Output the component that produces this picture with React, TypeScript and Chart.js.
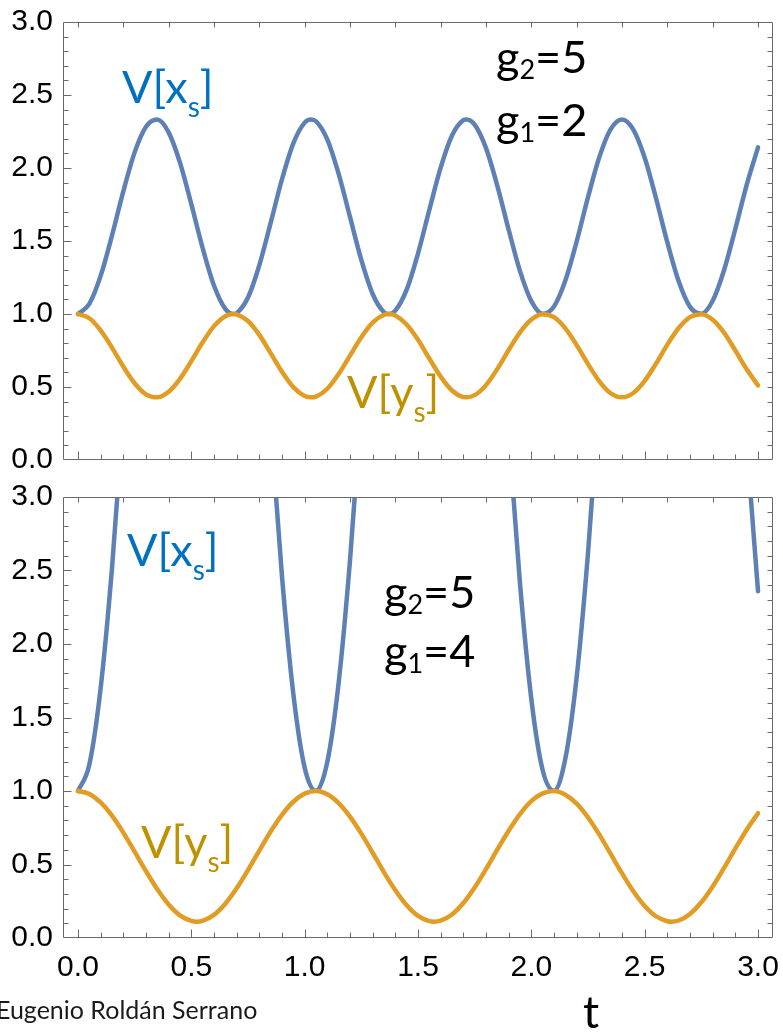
import React, { useEffect, useRef } from 'react';
import { Chart, registerables } from 'chart.js';

Chart.register(...registerables);

// ---------- data ----------
const T_TOP = [
  0, 0.05, 0.1, 0.15, 0.2, 0.25, 0.3, 0.35, 0.4, 0.45, 0.5, 0.55, 0.6, 0.65, 0.686,
  0.7, 0.75, 0.8, 0.85, 0.9, 0.95, 1.0, 1.028, 1.05, 1.1, 1.15, 1.2, 1.25, 1.3, 1.35, 1.371,
  1.4, 1.45, 1.5, 1.55, 1.6, 1.65, 1.7, 1.714, 1.75, 1.8, 1.85, 1.9, 1.95, 2.0, 2.05, 2.1,
  2.15, 2.2, 2.25, 2.3, 2.35, 2.4, 2.45, 2.5, 2.55, 2.6, 2.65, 2.7, 2.75, 2.8, 2.85, 2.9,
  2.95, 3.0,
];
const VX_TOP = [
  1.0, 1.069, 1.261, 1.537, 1.84, 2.107, 2.283, 2.332, 2.244, 2.037, 1.753, 1.452, 1.195, 1.035, 1.0,
  1.006, 1.113, 1.334, 1.624, 1.923, 2.169, 2.311, 2.333, 2.32, 2.195, 1.96, 1.665, 1.37, 1.137, 1.012, 1.0,
  1.023, 1.167, 1.414, 1.713, 2.002, 2.222, 2.328, 2.333, 2.297, 2.136, 1.878, 1.577, 1.294, 1.088, 1.001, 1.052,
  1.229, 1.497, 1.8, 2.075, 2.266, 2.333, 2.263, 2.07, 1.793, 1.49, 1.224, 1.049, 1.002, 1.091, 1.3, 1.584,
  1.885, 2.141,
];
const VY_TOP = [
  1.0, 0.971, 0.888, 0.77, 0.64, 0.526, 0.45, 0.429, 0.467, 0.556, 0.677, 0.806, 0.917, 0.985, 1.0,
  0.997, 0.952, 0.857, 0.732, 0.604, 0.499, 0.438, 0.429, 0.434, 0.488, 0.589, 0.715, 0.841, 0.941, 0.995, 1.0,
  0.99, 0.928, 0.823, 0.695, 0.571, 0.476, 0.431, 0.429, 0.444, 0.513, 0.624, 0.753, 0.874, 0.962, 0.999, 0.978,
  0.902, 0.787, 0.657, 0.539, 0.457, 0.429, 0.459, 0.542, 0.66, 0.79, 0.904, 0.979, 0.999, 0.961, 0.872, 0.75,
  0.621, 0.511,
];

const T_BOTTOM = [
  0, 0.05, 0.1, 0.15, 0.2, 0.25, 0.3, 0.35, 0.4, 0.45, 0.5, 0.524,
  0.55, 0.6, 0.65, 0.7, 0.75, 0.8, 0.85, 0.9, 0.95, 1.0, 1.05, 1.1, 1.15, 1.2, 1.25, 1.3, 1.35, 1.4,
  1.45, 1.5, 1.55, 1.571,
  1.6, 1.65, 1.7, 1.75, 1.8, 1.85, 1.9, 1.95, 2.0, 2.05, 2.1, 2.15, 2.2, 2.25, 2.3, 2.35, 2.4, 2.45,
  2.5, 2.55, 2.6, 2.618,
  2.65, 2.7, 2.75, 2.8, 2.85, 2.9, 2.95, 3.0,
];
const VX_BOTTOM = [
  1.0, 1.179, 1.699, 2.514, 3.551, 4.717, 5.909, 7.019, 7.95, 8.616, 8.96, 9.0,
  8.95, 8.587, 7.904, 6.961, 5.843, 4.65, 3.488, 2.461, 1.661, 1.159, 1.001, 1.199, 1.737, 2.567, 3.613, 4.784, 5.974, 7.077,
  7.995, 8.645, 8.969, 9.0,
  8.939, 8.557, 7.857, 6.902, 5.777, 4.583, 3.426, 2.41, 1.625, 1.141, 1.002, 1.221, 1.776, 2.62, 3.677, 4.851, 6.039, 7.134,
  8.039, 8.672, 8.977, 9.0,
  8.926, 8.525, 7.81, 6.843, 5.711, 4.516, 3.364, 2.359,
];
const VY_BOTTOM = [
  1.0, 0.98, 0.922, 0.832, 0.717, 0.587, 0.455, 0.331, 0.228, 0.154, 0.116, 0.111,
  0.117, 0.157, 0.233, 0.338, 0.462, 0.594, 0.724, 0.838, 0.927, 0.982, 1.0, 0.978, 0.918, 0.826, 0.71, 0.58, 0.447, 0.325,
  0.223, 0.151, 0.115, 0.111,
  0.118, 0.16, 0.238, 0.344, 0.469, 0.602, 0.73, 0.843, 0.931, 0.984, 1.0, 0.975, 0.914, 0.82, 0.703, 0.572, 0.44, 0.318,
  0.218, 0.148, 0.114, 0.111,
  0.119, 0.164, 0.243, 0.351, 0.477, 0.609, 0.737, 0.849,
];

const X_TICKS = [0, 0.5, 1.0, 1.5, 2.0, 2.5, 3.0];
const Y_TICKS = [0, 0.5, 1.0, 1.5, 2.0, 2.5, 3.0];
const X_MIN = -0.066;
const X_MAX = 3.066;
const Y_MIN = 0;
const Y_MAX = 3;

const BLUE = '#5E81B5';
const GOLD = '#E19C24';
const FRAME = '#6a6a6a';
const TEXT_BLUE = '#0070C0';
const TEXT_GOLD = '#BF9000';

// Mathematica-like frame with inward ticks on all four sides
const framePlugin = {
  id: 'mmaFrame',
  afterDatasetsDraw(chart: any) {
    const { ctx, chartArea: a } = chart;
    const xs = chart.scales.x;
    const ys = chart.scales.y;
    const L = Math.round(a.left) + 0.5;
    const R = Math.round(a.right) - 0.5;
    const T = Math.round(a.top) + 0.5;
    const B = Math.round(a.bottom) - 0.5;
    ctx.save();
    ctx.strokeStyle = FRAME;
    ctx.lineWidth = 1;
    ctx.beginPath();
    ctx.rect(L, T, R - L, B - T);
    for (let i = 0; i <= 30; i++) {
      const px = Math.round(xs.getPixelForValue(i / 10)) + 0.5;
      const len = i % 5 === 0 ? 8 : 5;
      ctx.moveTo(px, B);
      ctx.lineTo(px, B - len);
    }
    for (let i = 0; i <= 15; i++) {
      const px = Math.round(xs.getPixelForValue(i / 5)) + 0.5;
      ctx.moveTo(px, T);
      ctx.lineTo(px, T + 5);
    }
    for (let i = 1; i < 30; i++) {
      const py = Math.round(ys.getPixelForValue(i / 10)) + 0.5;
      const len = i % 5 === 0 ? 8 : 5;
      ctx.moveTo(L, py);
      ctx.lineTo(L + len, py);
      ctx.moveTo(R, py);
      ctx.lineTo(R - 5, py);
    }
    ctx.stroke();
    ctx.restore();
  },
};

function toPoints(t: number[], v: number[]) {
  return t.map((x, i) => ({ x, y: v[i] }));
}

function zeroPadding(s: any) {
  s.paddingTop = 0;
  s.paddingBottom = 0;
  s.paddingLeft = 0;
  s.paddingRight = 0;
}

function makeConfig(t: number[], vx: number[], vy: number[], showX: boolean, padTop: number, xAxisH: number): any {
  const lineStyle = {
    pointRadius: 0,
    borderWidth: 4.5,
    cubicInterpolationMode: 'monotone',
    borderCapStyle: 'round',
    borderJoinStyle: 'round',
    fill: false,
    clip: 0,
  };
  const tickFont = { family: '"Liberation Sans", Arial, sans-serif', size: 30 };
  return {
    type: 'line',
    data: {
      datasets: [
        { label: 'V[y_s]', data: toPoints(t, vy), borderColor: GOLD, ...lineStyle },
        { label: 'V[x_s]', data: toPoints(t, vx), borderColor: BLUE, ...lineStyle },
      ],
    },
    options: {
      animation: false,
      responsive: false,
      devicePixelRatio: 1,
      events: [],
      elements: { line: { capBezierPoints: false } },
      layout: { autoPadding: false, padding: { top: padTop, right: 10, left: 0, bottom: 0 } },
      plugins: { legend: { display: false }, tooltip: { enabled: false }, title: { display: false } },
      scales: {
        x: {
          type: 'linear',
          min: X_MIN,
          max: X_MAX,
          grid: { display: false, drawTicks: false },
          border: { display: false },
          afterBuildTicks: (s: any) => {
            s.ticks = X_TICKS.map((v) => ({ value: v }));
          },
          afterFit: (s: any) => {
            s.height = xAxisH;
            zeroPadding(s);
          },
          ticks: {
            display: showX,
            padding: 12,
            color: '#000',
            font: tickFont,
            maxRotation: 0,
            autoSkip: false,
            callback: (v: any) => Number(v).toFixed(1),
          },
        },
        y: {
          type: 'linear',
          min: Y_MIN,
          max: Y_MAX,
          grid: { display: false, drawTicks: false },
          border: { display: false },
          afterBuildTicks: (s: any) => {
            s.ticks = Y_TICKS.map((v) => ({ value: v }));
          },
          afterFit: (s: any) => {
            s.width = 63;
            zeroPadding(s);
          },
          ticks: {
            padding: 10,
            color: '#000',
            font: tickFont,
            autoSkip: false,
            callback: (v: any) => Number(v).toFixed(1),
          },
        },
      },
    },
    plugins: [framePlugin],
  };
}

function Panel(props: { top: number; height: number; t: number[]; vx: number[]; vy: number[]; showX: boolean; padTop: number; xAxisH: number }) {
  const ref = useRef<HTMLCanvasElement | null>(null);
  useEffect(() => {
    if (!ref.current) return;
    const chart = new Chart(ref.current, makeConfig(props.t, props.vx, props.vy, props.showX, props.padTop, props.xAxisH));
    return () => chart.destroy();
  }, []);
  return (
    <canvas
      ref={ref}
      width={783}
      height={props.height}
      style={{ position: 'absolute', left: 0, top: props.top, width: 783, height: props.height }}
    />
  );
}

const labelBase: React.CSSProperties = {
  position: 'absolute',
  fontFamily: 'Lato, "Open Sans", sans-serif',
  fontSize: 45,
  lineHeight: 1,
  whiteSpace: 'nowrap',
  zIndex: 2,
};

function VLabel(props: { left: number; top: number; v: string; color: string }) {
  return (
    <div style={{ ...labelBase, left: props.left, top: props.top, color: props.color }}>
      V[{props.v}
      <span style={{ fontSize: 28, verticalAlign: -14, lineHeight: 1 }}>s</span>]
    </div>
  );
}

function GLabel(props: { left: number; top: number; idx: string; val: string }) {
  return (
    <div style={{ ...labelBase, left: props.left, top: props.top, color: '#000' }}>
      g<span style={{ fontSize: 27, verticalAlign: -6, lineHeight: 1 }}>{props.idx}</span>={props.val}
    </div>
  );
}

export default function App() {
  return (
    <div style={{ position: 'absolute', left: 0, top: 0, width: 783, height: 1034, overflow: 'hidden', background: '#fff' }}>
      <Panel top={0} height={470} t={T_TOP} vx={VX_TOP} vy={VY_TOP} showX={false} padTop={22} xAxisH={10} />
      <Panel top={480} height={520} t={T_BOTTOM} vx={VX_BOTTOM} vy={VY_BOTTOM} showX={true} padTop={17} xAxisH={62} />

      <VLabel left={122} top={64} v="x" color={TEXT_BLUE} />
      <VLabel left={347} top={369} v="y" color={TEXT_GOLD} />
      <VLabel left={127} top={527} v="x" color={TEXT_BLUE} />
      <VLabel left={141} top={819} v="y" color={TEXT_GOLD} />

      <GLabel left={496} top={34} idx="2" val="5" />
      <GLabel left={496} top={97} idx="1" val="2" />
      <GLabel left={384} top={569} idx="2" val="5" />
      <GLabel left={384} top={628} idx="1" val="4" />

      <div style={{ ...labelBase, left: -4, top: 997, fontSize: 25, color: '#1a1a1a' }}>Eugenio Roldán Serrano</div>
      <div style={{ ...labelBase, left: 583, top: 989, fontSize: 45, color: '#000' }}>t</div>
    </div>
  );
}
